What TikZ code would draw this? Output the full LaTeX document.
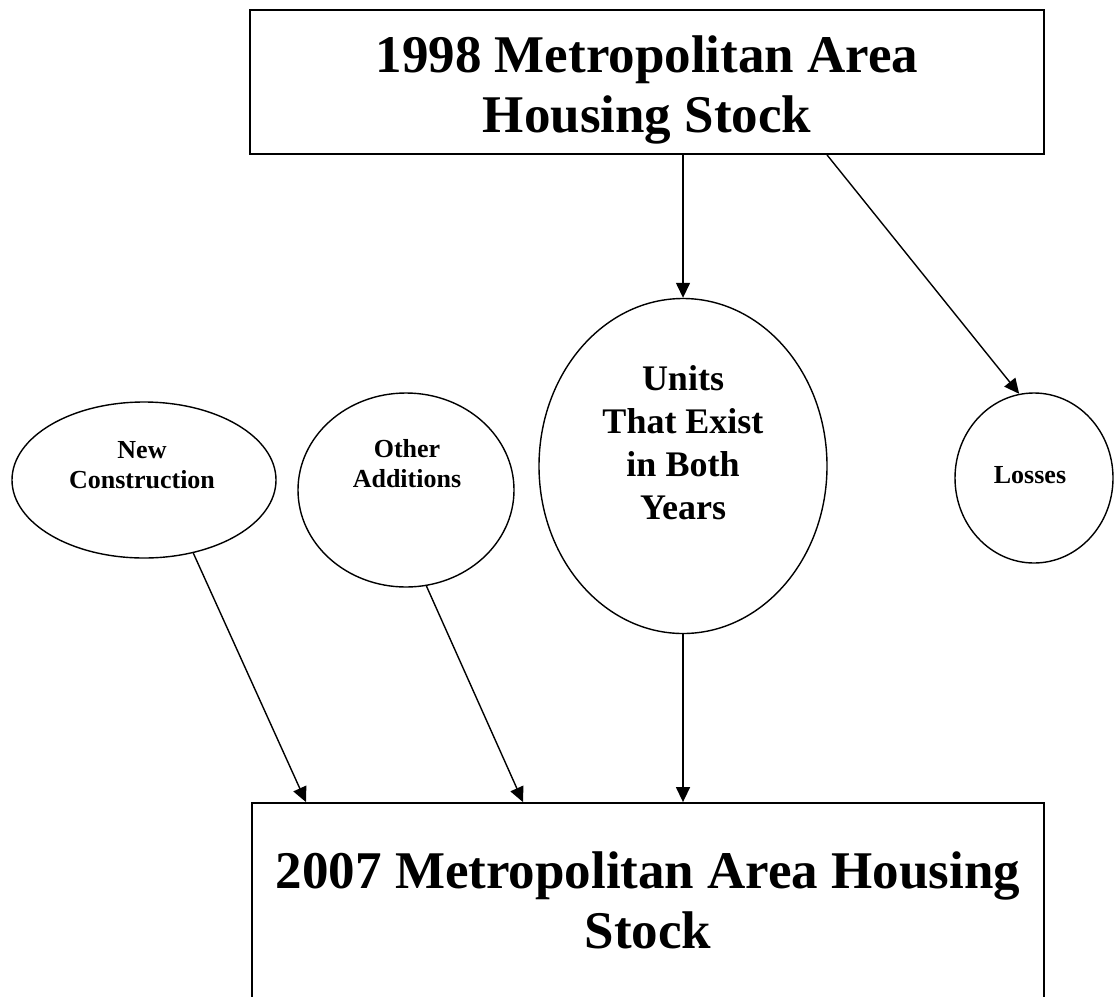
\documentclass[tikz,border=0pt]{standalone}
\usepackage{fontspec}
\setmainfont{Liberation Serif}
\usetikzlibrary{arrows.meta, positioning, calc, shapes.geometric}

\begin{document}
\begin{tikzpicture}[
			x=1pt, y=-1pt,
			every node/.style={align=center},
			box/.style={rectangle, draw, line width=1.8pt, inner sep=0pt},
			oval/.style={ellipse, draw, line width=1.4pt, inner sep=0pt},
			bigtext/.style={font=\bfseries\fontsize{53}{60}\selectfont, anchor=base},
			midtext/.style={font=\bfseries\fontsize{36}{43}\selectfont, anchor=base},
			smalltext/.style={font=\bfseries\fontsize{26}{30}\selectfont, anchor=base},
			flow/.style={->, line width=1.4pt},
			>={Triangle[length=15pt, width=14pt]}
			]
			\useasboundingbox (0,0) rectangle (1115,996);
			\clip (0,0) rectangle (1115,996);
			% Boxes
			\node[box, minimum width=794pt, minimum height=144pt] (stock98) at (647,82) {};
			\node[box, minimum width=792pt, minimum height=206pt] (stock07) at (648,906) {};
			
			% Ovals
			\node[oval, minimum width=264pt, minimum height=156pt] (newcon) at (144,480) {};
			\node[oval, minimum width=216pt, minimum height=194pt] (other) at (406,490) {};
			\node[oval, minimum width=288pt, minimum height=335pt] (both) at (683,466) {};
			\node[oval, minimum width=158pt, minimum height=170pt] (losses) at (1034,478) {};
			
			% Texts (placed by the baseline of the last line)
			\node[bigtext] (stock98txt) at (647,132) {1998 Metropolitan Area\\Housing Stock};
			\node[bigtext] (stock07txt) at (648,948) {2007 Metropolitan Area Housing\\Stock};
			\node[midtext] (bothtxt) at (683,519) {Units\\That Exist\\in Both\\Years};
			\node[smalltext] (newcontxt) at (142,488) {New\\Construction};
			\node[smalltext] (othertxt) at (407,487) {Other\\Additions};
			\node[smalltext] (lossestxt) at (1030,483) {Losses};
			
			% Arrows
			\draw[flow] (stock98.south -| both) -- (both);
			\draw[flow] ([xshift=180pt]stock98.south) -- (losses.100);
			\draw[flow] (newcon.-56) -- ([xshift=-342pt]stock07.north);
			\draw[flow] (other.-78) -- ([xshift=-125pt]stock07.north);
			\draw[flow] (both) -- (stock07.north -| both);
		\end{tikzpicture}
\end{document}
